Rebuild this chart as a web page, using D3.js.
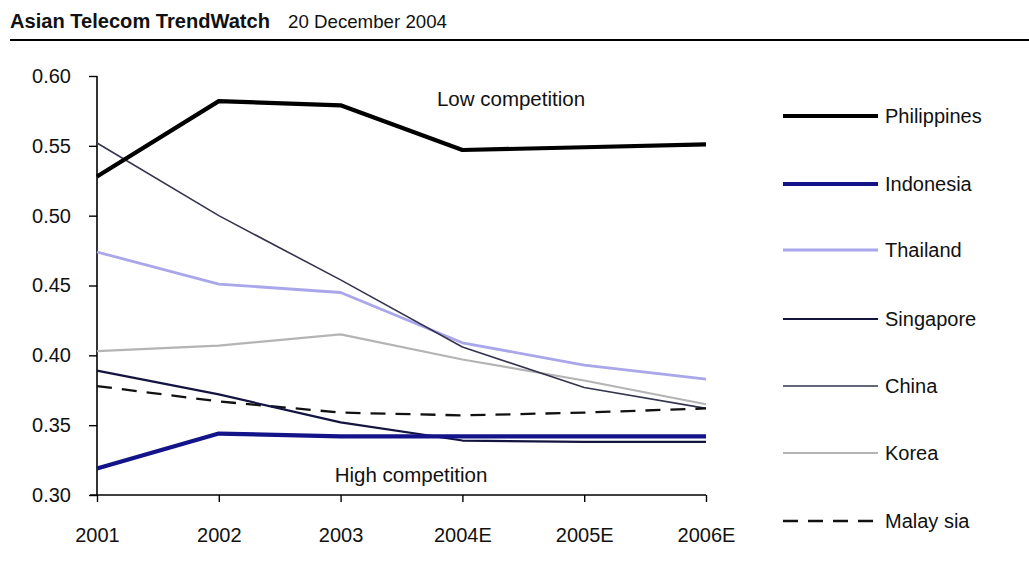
<!DOCTYPE html>
<html><head><meta charset="utf-8">
<script src="https://cdn.jsdelivr.net/npm/d3@7"></script>
<style>
html,body{margin:0;padding:0;background:#fff;}
text{font-family:"Liberation Sans",Arial,sans-serif;fill:#111;}
</style></head>
<body><svg id="c" width="1029" height="575"></svg>
<script>
const years = ["2001","2002","2003","2004E","2005E","2006E"];
const yTicks = [0.30,0.35,0.40,0.45,0.50,0.55,0.60];
const seriesNames = ["Philippines","Indonesia","Thailand","Singapore","China","Korea","Malay sia"];
const philippines = [0.528,0.582,0.579,0.547,0.549,0.551];
const indonesia   = [0.319,0.344,0.342,0.342,0.342,0.342];
const thailand    = [0.474,0.451,0.445,0.409,0.393,0.383];
const singapore   = [0.389,0.372,0.352,0.339,0.338,0.338];
const china       = [0.552,0.500,0.454,0.406,0.377,0.362];
const korea       = [0.403,0.407,0.415,0.397,0.382,0.365];
const malaysia    = [0.378,0.367,0.359,0.357,0.359,0.362];

const values = [philippines,indonesia,thailand,singapore,china,korea,malaysia];
const styles = [
  {c:"#000000", w:4.2, d:null},
  {c:"#14148a", w:4.2, d:null},
  {c:"#aaa6ea", w:2.8, d:null},
  {c:"#141440", w:2.2, d:null},
  {c:"#34344e", w:1.6, d:null},
  {c:"#b4b4b4", w:2.2, d:null},
  {c:"#111111", w:2.3, d:"15,10"}
];
const FS = 20;

const svg = d3.select("#c");
// header
svg.append("text").attr("x",10).attr("y",28).attr("font-size",20).attr("font-weight","bold").attr("textLength",260).attr("lengthAdjust","spacingAndGlyphs").text("Asian Telecom TrendWatch");
svg.append("text").attr("x",288).attr("y",28).attr("font-size",19).attr("textLength",159).attr("lengthAdjust","spacingAndGlyphs").text("20 December 2004");
svg.append("line").attr("x1",10).attr("x2",1029).attr("y1",40).attr("y2",40).attr("stroke","#000").attr("stroke-width",2);

const x = d3.scalePoint().domain(years).range([97,706]);
const y = d3.scaleLinear().domain([0.30,0.60]).range([495,76]);

const g = svg.append("g");
// y axis
const ya = g.append("g").attr("transform","translate(97,0)")
  .call(d3.axisLeft(y).tickValues(yTicks).tickFormat(d3.format(".2f")).tickSize(8).tickPadding(18));
ya.select(".domain").attr("stroke","#000").attr("stroke-width",1.6).attr("d","M0,76V495");
ya.selectAll(".tick line").attr("stroke","#000").attr("stroke-width",1.4);
ya.selectAll(".tick text").attr("font-size",FS).attr("font-family","Liberation Sans, Arial, sans-serif").attr("fill","#111");

const xa = g.append("g").attr("transform","translate(0,495)")
  .call(d3.axisBottom(x).tickSize(7).tickPadding(26));
xa.select(".domain").attr("stroke","#000").attr("stroke-width",1.6).attr("d","M90,0H706");
xa.selectAll(".tick line").attr("stroke","#000").attr("stroke-width",1.4);
xa.selectAll(".tick text").attr("font-size",FS).attr("font-family","Liberation Sans, Arial, sans-serif").attr("fill","#111");

const line = d3.line().x((d,i)=>x(years[i])).y(d=>y(d));
const order = [5,2,4,6,3,1,0];
order.forEach(k=>{
  g.append("path").datum(values[k]).attr("d",line).attr("fill","none")
   .attr("stroke",styles[k].c).attr("stroke-width",styles[k].w)
   .attr("stroke-dasharray",styles[k].d).attr("stroke-linejoin","round");
});

svg.append("text").attr("x",511).attr("y",106).attr("text-anchor","middle").attr("font-size",20.5).text("Low competition");
svg.append("text").attr("x",411).attr("y",482).attr("text-anchor","middle").attr("font-size",20.5).text("High competition");

// legend
const legY = [116,184,250,319,386,453,521];
seriesNames.forEach((n,k)=>{
  svg.append("line").attr("x1",783).attr("x2",878).attr("y1",legY[k]).attr("y2",legY[k])
    .attr("stroke",styles[k].c).attr("stroke-width",styles[k].w).attr("stroke-dasharray",styles[k].d);
  svg.append("text").attr("x",885).attr("y",legY[k]+7).attr("font-size",FS).text(n);
});
</script></body></html>
